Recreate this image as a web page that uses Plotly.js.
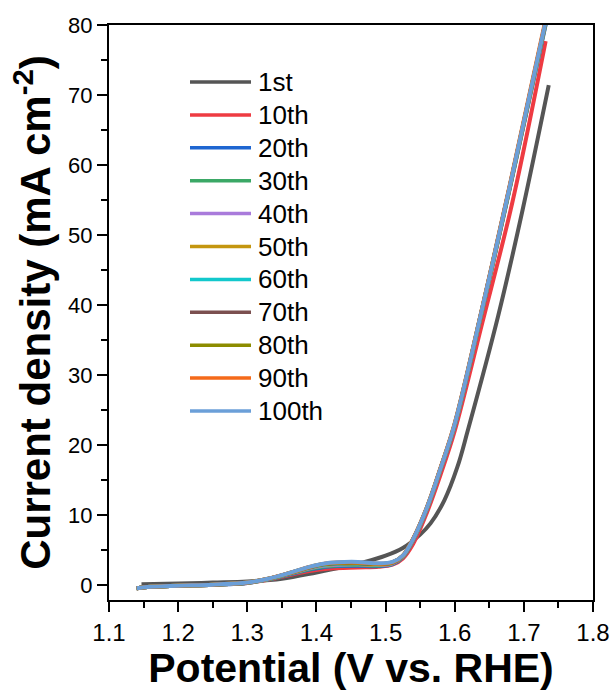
<!DOCTYPE html>
<html>
<head>
<meta charset="utf-8">
<script src="https://cdn.plot.ly/plotly-3.0.1.min.js"></script>
<style>html,body{margin:0;padding:0;background:#fff;}#chart{width:616px;height:691px;}</style>
</head>
<body>
<div id="chart"></div>
<script>
// ---- data ----
var cycleNames = ["1st","10th","20th","30th","40th","50th","60th","70th","80th","90th","100th"];
var cycleColors = ["#555555","#EE3B42","#1F66D1","#3BA866","#A97BDB","#C4960F","#12C8CC","#7B5050","#8C8C00","#F56A1A","#6B9FD8"];

var potential1st = [1.147, 1.20, 1.25, 1.30, 1.35, 1.40, 1.44, 1.47, 1.50, 1.525, 1.55, 1.565, 1.585, 1.604, 1.619, 1.663, 1.698, 1.736];
var current1st   = [0.1, 0.2, 0.35, 0.5, 0.9, 1.8, 2.6, 3.3, 4.2, 5.3, 7.2, 8.8, 12.1, 16.9, 22.1, 38.5, 53.5, 71.4];

var potential10th = [1.14, 1.16, 1.20, 1.25, 1.30, 1.33, 1.36, 1.39, 1.42, 1.46, 1.49, 1.51, 1.525, 1.54, 1.56, 1.58, 1.60, 1.64, 1.683, 1.7315];
var current10th   = [-0.45, -0.25, -0.1, 0.05, 0.3, 0.75, 1.4, 2.0, 2.35, 2.5, 2.6, 2.9, 3.8, 5.9, 10.4, 15.9, 22.0, 37.5, 54.5, 77.7];

var potential = [1.14, 1.16, 1.20, 1.25, 1.30, 1.33, 1.36, 1.39, 1.41, 1.43, 1.46, 1.49, 1.51, 1.525, 1.54, 1.56, 1.58, 1.60, 1.64, 1.68, 1.735];
var current20th  = [-0.45, -0.25, -0.1, 0.05, 0.30, 0.80, 1.50, 2.20, 2.55, 2.70, 2.75, 2.70, 3.00, 4.00, 6.40, 10.90, 16.60, 22.70, 39.30, 56.80, 81.6];
var current30th  = [-0.45, -0.25, -0.1, 0.05, 0.32, 0.82, 1.55, 2.30, 2.65, 2.80, 2.85, 2.80, 3.05, 4.05, 6.50, 11.00, 16.70, 22.80, 39.40, 56.90, 81.8];
var current40th  = [-0.45, -0.25, -0.1, 0.05, 0.33, 0.85, 1.60, 2.40, 2.75, 2.90, 2.95, 2.85, 3.10, 4.10, 6.50, 11.00, 16.70, 22.80, 39.50, 57.00, 81.9];
var current50th  = [-0.45, -0.25, -0.1, 0.05, 0.33, 0.86, 1.62, 2.45, 2.85, 3.00, 3.00, 2.90, 3.15, 4.10, 6.55, 11.05, 16.75, 22.90, 39.50, 57.00, 82.0];
var current60th  = [-0.45, -0.25, -0.1, 0.05, 0.34, 0.87, 1.65, 2.50, 2.90, 3.05, 3.05, 2.95, 3.20, 4.15, 6.55, 11.05, 16.80, 22.90, 39.55, 57.05, 82.0];
var current70th  = [-0.45, -0.25, -0.1, 0.05, 0.34, 0.88, 1.66, 2.52, 2.95, 3.10, 3.10, 3.00, 3.20, 4.15, 6.60, 11.10, 16.80, 22.90, 39.60, 57.10, 82.0];
var current80th  = [-0.45, -0.25, -0.1, 0.05, 0.35, 0.89, 1.68, 2.55, 3.00, 3.15, 3.15, 3.00, 3.25, 4.20, 6.60, 11.10, 16.80, 23.00, 39.60, 57.10, 82.1];
var current90th  = [-0.45, -0.25, -0.1, 0.05, 0.35, 0.90, 1.69, 2.58, 3.02, 3.20, 3.22, 3.05, 3.25, 4.20, 6.65, 11.15, 16.90, 23.10, 39.70, 57.30, 82.4];
var current100th = [-0.45, -0.25, -0.1, 0.05, 0.35, 0.90, 1.70, 2.60, 3.05, 3.25, 3.30, 3.10, 3.30, 4.20, 6.60, 11.10, 16.80, 23.00, 39.60, 57.10, 82.1];

var xTickVals = [1.1, 1.2, 1.3, 1.4, 1.5, 1.6, 1.7, 1.8];
var yTickVals = [0, 10, 20, 30, 40, 50, 60, 70, 80];

// ---- build traces ----
var seriesX = [potential1st, potential10th, potential, potential, potential, potential, potential, potential, potential, potential, potential];
var seriesY = [current1st, current10th, current20th, current30th, current40th, current50th, current60th, current70th, current80th, current90th, current100th];

var traces = [];
for (var i = 0; i < cycleNames.length; i++) {
  traces.push({
    type: 'scatter', mode: 'lines', name: cycleNames[i],
    x: seriesX[i], y: seriesY[i],
    line: {color: cycleColors[i], width: 4, shape: 'spline', smoothing: 1},
    showlegend: false, hoverinfo: 'skip'
  });
}

// ---- layout ----
var W = 616, H = 691;
var M = {l: 109, r: 23, t: 25, b: 91};
var PW = W - M.l - M.r, PH = H - M.t - M.b;
function px2x(px) { return (px - M.l) / PW; }
function py2y(py) { return (H - M.b - py) / PH; }

var FONT = 'Liberation Sans, Arial, sans-serif';
var shapes = [], annotations = [];
// custom legend (line samples 60px long, as in the reference)
var legTop = 82, legStep = 32.9;
for (var k = 0; k < cycleNames.length; k++) {
  var yy = py2y(legTop + k * legStep);
  shapes.push({type: 'line', xref: 'paper', yref: 'paper',
    x0: px2x(190), x1: px2x(251), y0: yy, y1: yy,
    line: {color: cycleColors[k], width: 3.5}});
  annotations.push({xref: 'paper', yref: 'paper', x: px2x(256), y: yy,
    xanchor: 'left', yanchor: 'middle', showarrow: false,
    text: cycleNames[k], font: {family: FONT, size: 26, color: '#000'}});
}

var axisCommon = {
  showline: true, linecolor: '#000', linewidth: 2, mirror: true,
  ticks: 'outside', ticklen: 10, tickwidth: 2, tickcolor: '#000',
  showgrid: false, zeroline: false
};

var layout = {
  width: W, height: H,
  margin: M,
  paper_bgcolor: '#fff', plot_bgcolor: '#fff',
  showlegend: false,
  xaxis: Object.assign({}, axisCommon, {
    range: [1.1, 1.8], tickvals: xTickVals, ticktext: xTickVals.map(function(v){return v.toFixed(1);}),
    tickfont: {family: FONT, size: 24, color: '#000'},
    minor: {ticks: 'outside', ticklen: 6, tickwidth: 2, tickcolor: '#000', dtick: 0.05, tick0: 1.1},
    title: {text: '<b>Potential (V vs. RHE)</b>', font: {family: FONT, size: 41, color: '#000'}, standoff: 4}
  }),
  yaxis: Object.assign({}, axisCommon, {
    range: [-2.14, 80], tickvals: yTickVals,
    tickfont: {family: FONT, size: 22, color: '#000'},
    minor: {ticks: 'outside', ticklen: 6, tickwidth: 2, tickcolor: '#000', dtick: 5, tick0: 0},
    title: {text: '<b>Current density (mA cm<sup>-2</sup>)</b>', font: {family: FONT, size: 42, color: '#000'}, standoff: 4}
  }),
  shapes: shapes,
  annotations: annotations
};

Plotly.newPlot('chart', traces, layout, {displayModeBar: false, staticPlot: true});
</script>
</body>
</html>
